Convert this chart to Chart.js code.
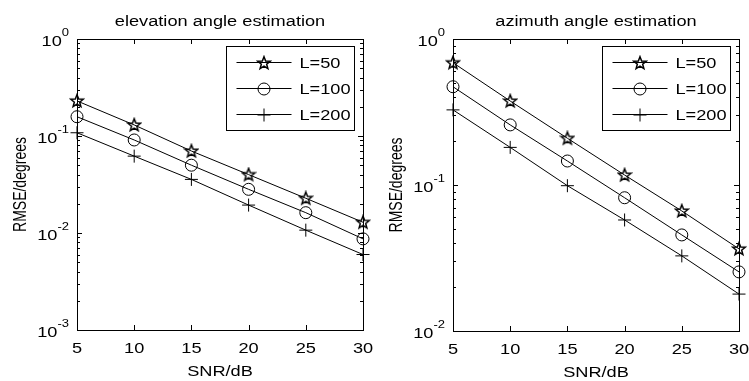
<!DOCTYPE html>
<html>
<head>
<meta charset="utf-8">
<script src="https://cdn.jsdelivr.net/npm/chart.js@4.4.1/dist/chart.umd.min.js"></script>
<style>
  html, body { margin:0; padding:0; background:#fff; }
  body { width:749px; height:381px; position:relative; overflow:hidden; }
  canvas { position:absolute; top:0; }
</style>
</head>
<body>
<canvas id="c1" width="380" height="381" style="left:0"></canvas>
<canvas id="c2" width="369" height="381" style="left:380px"></canvas>
<script>
// ---------------- data ----------------
const SNR = [5, 10, 15, 20, 25, 30];
const seriesLabels = ['L=50', 'L=100', 'L=200'];

const elevL50  = [0.23, 0.13, 0.070, 0.040, 0.0228, 0.0129];
const elevL100 = [0.158, 0.091, 0.050, 0.0282, 0.0162, 0.0087];
const elevL200 = [0.108, 0.062, 0.0357, 0.0194, 0.0107, 0.0060];

const aziL50  = [0.688, 0.376, 0.209, 0.117, 0.0664, 0.0365];
const aziL100 = [0.471, 0.258, 0.146, 0.0818, 0.0455, 0.0254];
const aziL200 = [0.327, 0.181, 0.0989, 0.0576, 0.0327, 0.0179];

const xTicks = [5, 10, 15, 20, 25, 30];
const elevYExp = [-3, -2, -1, 0];
const aziYExp = [-2, -1, 0];

const titles = ['elevation angle estimation', 'azimuth angle estimation'];
const xLabel = 'SNR/dB';
const yLabel = 'RMSE/degrees';

// ---------------- styling helpers ----------------
const FONT = '"Liberation Sans", Arial, Helvetica, sans-serif';
const SX = 1.3; // horizontal text stretch seen in the reference

function makeStar() {
  const c = document.createElement('canvas');
  c.width = 16; c.height = 16;
  const g = c.getContext('2d');
  const cx = 8, cy = 8.3, R = 6.6, r = 2.8;
  g.beginPath();
  for (let i = 0; i < 10; i++) {
    const a = -Math.PI / 2 + i * Math.PI / 5;
    const rad = i % 2 === 0 ? R : r;
    const px = cx + rad * Math.cos(a), py = cy + rad * Math.sin(a);
    if (i === 0) g.moveTo(px, py); else g.lineTo(px, py);
  }
  g.closePath();
  g.strokeStyle = '#000'; g.lineWidth = 1.5;
  g.stroke();
  return c;
}
const starImg = makeStar();
const pointStyles = [starImg, 'circle', 'cross'];
const pointRadii = [6, 6, 6.5];

function txt(ctx, s, x, y, align, size) {
  ctx.font = size + 'px ' + FONT;
  const w = ctx.measureText(s).width * SX;
  let left = x;
  if (align === 'center') left = x - w / 2;
  else if (align === 'right') left = x - w;
  ctx.save();
  ctx.translate(left, y);
  ctx.scale(SX, 1);
  ctx.textAlign = 'left';
  ctx.textBaseline = 'alphabetic';
  ctx.fillText(s, 0, 0);
  ctx.restore();
  return w;
}
function txtW(ctx, s, size) {
  ctx.font = size + 'px ' + FONT;
  return ctx.measureText(s).width * SX;
}

function matlabPlugin(idx, yExp) {
  return {
    id: 'matlab' + idx,
    afterDatasetsDraw(chart) {
      const ctx = chart.ctx;
      const a = chart.chartArea;
      const xs = chart.scales.x, ys = chart.scales.y;
      ctx.save();
      ctx.strokeStyle = '#000';
      ctx.fillStyle = '#000';
      ctx.lineWidth = 1;
      // box
      ctx.strokeRect(Math.round(a.left) + 0.5, Math.round(a.top) + 0.5,
                     Math.round(a.right - a.left), Math.round(a.bottom - a.top));
      // x ticks (inside, top and bottom)
      ctx.beginPath();
      xs.ticks.forEach(t => {
        const px = Math.round(xs.getPixelForValue(t.value)) + 0.5;
        ctx.moveTo(px, a.bottom); ctx.lineTo(px, a.bottom - 5);
        ctx.moveTo(px, a.top); ctx.lineTo(px, a.top + 5);
      });
      // y ticks, major and minor (inside, left and right)
      for (let k = yExp[0]; k < yExp[yExp.length - 1]; k++) {
        for (let m = 1; m <= 9; m++) {
          const v = m * Math.pow(10, k);
          const py = Math.round(ys.getPixelForValue(v)) + 0.5;
          const len = m === 1 ? 5 : 3;
          ctx.moveTo(a.left, py); ctx.lineTo(a.left + len, py);
          ctx.moveTo(a.right, py); ctx.lineTo(a.right - len, py);
        }
      }
      ctx.stroke();
      // x tick labels
      xs.ticks.forEach(t => {
        txt(ctx, String(t.value), xs.getPixelForValue(t.value), a.bottom + 23, 'center', 14);
      });
      // y tick labels 10^k
      yExp.forEach(k => {
        const py = ys.getPixelForValue(Math.pow(10, k));
        const e = String(k);
        const wb = txtW(ctx, '10', 14), we = txtW(ctx, e, 10);
        const right = a.left - 8;
        txt(ctx, '10', right - we - wb, py + 7, 'left', 14);
        txt(ctx, e, right - we, py - 3, 'left', 10);
      });
      // x label
      txt(ctx, xLabel, (a.left + a.right) / 2, a.bottom + 46, 'center', 14);
      // y label (rotated)
      ctx.save();
      ctx.font = '14px ' + FONT;
      ctx.translate(a.left - 51, (a.top + a.bottom) / 2);
      ctx.rotate(-Math.PI / 2);
      ctx.scale(1, SX);
      ctx.textAlign = 'center';
      ctx.textBaseline = 'alphabetic';
      ctx.fillText(yLabel, 0, 0);
      ctx.restore();
      // title
      txt(ctx, titles[idx], (a.left + a.right) / 2, 26, 'center', 14);
      // legend
      const bl = Math.round(a.right - 137) + 0.5, br = Math.round(a.right - 9) + 0.5;
      const bt = Math.round(a.top + 7) + 0.5, bb = Math.round(a.top + 91) + 0.5;
      ctx.fillStyle = '#fff';
      ctx.fillRect(bl, bt, br - bl, bb - bt);
      ctx.fillStyle = '#000';
      ctx.strokeRect(bl, bt, br - bl, bb - bt);
      chart.data.datasets.forEach((ds, i) => {
        const ry = Math.round(a.top + 23 + i * 26) + 0.5;
        ctx.beginPath();
        ctx.moveTo(bl + 10, ry); ctx.lineTo(bl + 65, ry);
        ctx.stroke();
        ctx.save();
        ctx.strokeStyle = '#000'; ctx.fillStyle = 'rgba(0,0,0,0)'; ctx.lineWidth = 1;
        Chart.helpers.drawPoint(ctx, { pointStyle: ds.pointStyle, radius: ds.pointRadius, rotation: 0, borderWidth: 1 }, Math.round(bl + 37), Math.round(ry));
        ctx.restore();
        ctx.fillStyle = '#000';
        txt(ctx, ds.label, bl + 73, ry + 5, 'left', 14);
      });
      ctx.restore();
    }
  };
}

function makeChart(id, idx, series, yExp, W, plotLeft, plotRight, plotTop, plotBottom) {
  const H = 381;
  const datasets = series.map((vals, i) => ({
    label: seriesLabels[i],
    data: SNR.map((x, j) => ({ x: x, y: vals[j] })),
    borderColor: '#000',
    backgroundColor: 'rgba(0,0,0,0)',
    borderWidth: 1,
    pointStyle: pointStyles[i],
    pointRadius: pointRadii[i],
    pointBorderColor: '#000',
    pointBackgroundColor: 'rgba(0,0,0,0)',
    pointBorderWidth: 1,
    tension: 0,
    clip: false
  }));
  return new Chart(document.getElementById(id), {
    type: 'line',
    data: { datasets },
    options: {
      responsive: false,
      animation: false,
      devicePixelRatio: 1,
      layout: { padding: { left: 0, right: W - plotRight, top: plotTop, bottom: 0 } },
      plugins: { legend: { display: false }, tooltip: { enabled: false }, title: { display: false } },
      scales: {
        x: {
          type: 'linear', min: xTicks[0], max: xTicks[xTicks.length - 1],
          ticks: { display: false, stepSize: 5 },
          grid: { display: false }, border: { display: false },
          afterFit: s => { s.height = H - plotBottom; }
        },
        y: {
          type: 'logarithmic',
          min: Math.pow(10, yExp[0]), max: Math.pow(10, yExp[yExp.length - 1]),
          ticks: { display: false },
          grid: { display: false }, border: { display: false },
          afterFit: s => { s.width = plotLeft; }
        }
      }
    },
    plugins: [matlabPlugin(idx, yExp)]
  });
}

makeChart('c1', 0, [elevL50, elevL100, elevL200], elevYExp, 380, 77, 363, 39, 330);
makeChart('c2', 1, [aziL50, aziL100, aziL200], aziYExp, 369, 73, 359, 39, 331);
</script>
</body>
</html>
